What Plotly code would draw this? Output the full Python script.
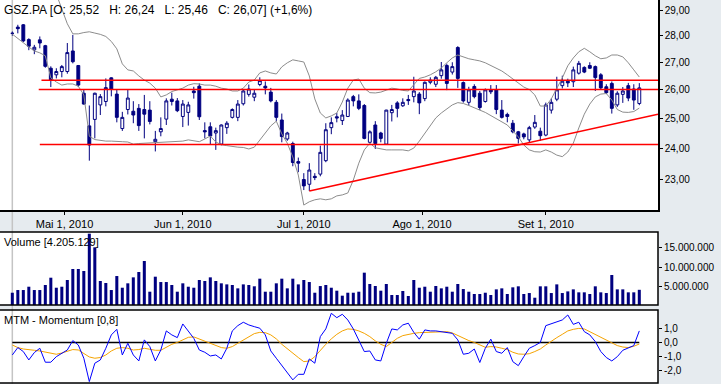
import numpy as np
import pandas as pd
import plotly.graph_objects as go

# ---------------- data ----------------
DATES = pd.bdate_range("2010-04-19", "2010-09-24")  # 115 trading days

OPEN = [28.09, 28.33, 28.42, 27.85, 27.46, 27.84, 27.62, 26.78, 26.54, 26.66,
        26.66, 27.42, 26.88, 25.88, 24.75, 24.97, 25.47, 25.59, 26.43, 25.85,
        24.66, 25.31, 25.25, 25.35, 25.31, 25.29, 24.22, 24.55, 24.98, 25.67,
        25.61, 25.07, 25.21, 25.96, 26.13, 24.59, 24.72, 24.51, 24.14, 24.69,
        25.04, 25.04, 25.51, 25.84, 25.74, 26.19, 26.13, 25.92, 25.56, 24.95,
        24.31, 24.16, 23.57, 23.00, 22.85, 23.10, 23.17, 23.60, 24.69, 25.06,
        24.93, 25.07, 25.76, 25.61, 25.45, 24.20, 24.78, 24.51, 24.14, 25.20,
        25.54, 25.44, 25.66, 25.76, 25.85, 25.69, 26.27, 26.20, 26.51, 26.88,
        26.64, 27.55, 26.26, 25.56, 26.12, 25.88, 25.59, 26.00, 26.00, 25.29,
        25.14, 24.84, 24.55, 24.48, 24.28, 24.71, 24.57, 24.44, 25.29, 25.67,
        26.15, 26.31, 26.29, 26.60, 26.81, 26.88, 26.84, 26.54, 26.11, 26.23,
        25.47, 25.84, 26.15, 26.03, 25.52]
HIGH = [28.16, 28.42, 28.45, 27.90, 27.65, 27.97, 27.65, 26.85, 26.78, 26.90,
        27.72, 28.03, 26.90, 26.00, 25.45, 25.90, 25.85, 26.41, 26.45, 26.03,
        25.23, 26.03, 25.60, 25.50, 25.82, 25.60, 24.58, 25.04, 25.70, 25.90,
        25.71, 25.64, 25.58, 26.11, 26.23, 24.87, 24.87, 24.69, 24.80, 24.91,
        25.35, 25.64, 26.03, 26.19, 26.03, 26.45, 26.30, 26.07, 25.64, 25.17,
        24.55, 24.22, 23.70, 23.20, 23.52, 23.20, 24.09, 24.84, 25.04, 25.19,
        25.29, 25.70, 25.82, 25.84, 25.50, 24.60, 24.91, 24.55, 25.30, 25.47,
        25.60, 25.70, 25.82, 26.47, 25.92, 26.30, 26.45, 26.50, 27.01, 26.95,
        27.00, 27.60, 26.30, 26.11, 26.20, 25.96, 26.05, 26.17, 26.17, 25.64,
        25.20, 24.95, 24.58, 24.52, 24.75, 25.12, 24.69, 25.55, 25.70, 26.47,
        26.51, 26.40, 26.84, 27.05, 26.85, 27.00, 26.88, 26.60, 26.20, 26.30,
        25.95, 26.10, 26.25, 26.20, 26.24]
LOW = [28.00, 28.09, 27.75, 27.45, 27.30, 27.52, 26.80, 26.10, 26.41, 26.45,
       26.58, 26.96, 26.10, 25.48, 23.60, 24.33, 25.12, 25.42, 25.77, 24.87,
       24.58, 25.14, 24.84, 24.58, 24.33, 24.80, 23.90, 24.40, 24.78, 25.45,
       25.22, 24.71, 24.76, 25.69, 24.95, 24.33, 24.13, 23.95, 24.10, 24.48,
       25.00, 24.91, 25.45, 25.76, 25.60, 26.13, 25.84, 25.56, 24.91, 24.20,
       24.25, 23.42, 23.23, 22.67, 22.64, 22.98, 23.10, 23.55, 24.47, 24.87,
       24.78, 25.05, 25.42, 25.29, 24.30, 24.18, 23.98, 24.20, 24.13, 24.90,
       25.04, 25.40, 25.47, 25.56, 25.15, 25.60, 26.20, 26.10, 26.40, 25.99,
       26.55, 26.07, 25.55, 25.45, 25.70, 25.29, 25.55, 25.85, 25.15, 25.00,
       24.87, 24.50, 24.16, 24.30, 24.20, 24.65, 24.25, 24.40, 25.17, 25.60,
       26.05, 26.10, 26.10, 26.55, 26.60, 26.75, 25.96, 26.00, 25.85, 25.17,
       25.40, 25.54, 25.60, 25.30, 25.46]
CLOSE = [28.09, 28.27, 27.80, 27.60, 27.56, 27.72, 26.85, 26.35, 26.66, 26.84,
         27.36, 27.02, 26.17, 25.50, 24.11, 25.88, 25.76, 26.08, 26.03, 25.04,
         25.04, 25.71, 25.12, 24.76, 25.15, 24.90, 24.30, 24.66, 25.61, 25.59,
         25.27, 25.50, 25.47, 25.90, 25.06, 24.55, 24.41, 24.59, 24.78, 24.84,
         25.31, 25.50, 25.96, 26.03, 25.88, 26.33, 26.07, 25.61, 25.04, 24.39,
         24.51, 23.54, 23.52, 22.80, 23.30, 23.06, 23.87, 24.62, 24.86, 25.02,
         25.12, 25.64, 25.61, 25.35, 24.33, 24.55, 24.16, 24.33, 25.29, 25.31,
         25.35, 25.56, 25.62, 25.96, 25.54, 26.27, 26.35, 26.45, 26.72, 26.23,
         26.84, 26.41, 25.61, 26.00, 25.76, 25.38, 26.00, 25.93, 25.31, 25.04,
         25.07, 24.55, 24.33, 24.38, 24.69, 24.87, 24.42, 25.47, 25.56, 26.00,
         26.31, 26.25, 26.72, 26.96, 26.64, 26.78, 26.44, 26.07, 25.90, 25.35,
         25.88, 25.96, 25.71, 25.64, 26.07]

BB_UPPER = [30.60, 30.50, 30.40, 30.30, 30.10, 29.95, 29.80, 29.70, 29.64, 29.04,
            28.46, 28.07, 28.07, 28.12, 28.15, 28.10, 28.05, 27.97, 27.78, 27.50,
            26.94, 26.72, 26.68, 26.50, 26.35, 26.24, 26.06, 25.75, 25.82, 25.94,
            25.99, 26.06, 26.17, 26.22, 26.21, 26.17, 26.17, 26.13, 26.06, 26.03,
            25.96, 25.96, 26.06, 26.28, 26.35, 26.61, 26.68, 26.61, 26.57, 26.83,
            26.98, 27.09, 27.05, 27.01, 26.50, 25.68, 25.19, 25.02, 25.09, 25.19,
            25.57, 26.06, 26.35, 26.39, 26.06, 25.90, 25.89, 25.92, 25.99, 26.06,
            26.03, 25.98, 25.96, 26.17, 26.41, 26.46, 26.54, 26.65, 26.79, 26.98,
            27.16, 27.27, 27.20, 27.13, 27.09, 27.05, 26.98, 26.87, 26.79, 26.68,
            26.54, 26.39, 26.24, 26.10, 26.01, 25.82, 25.43, 25.43, 25.68, 26.03,
            26.43, 26.87, 27.16, 27.39, 27.52, 27.39, 27.24, 27.13, 27.16, 27.27,
            27.27, 27.20, 26.98, 26.72, 26.46]
BB_LOWER = [28.06, 27.91, 27.73, 27.57, 27.42, 27.35, 27.24, 26.43, 26.28, 26.17,
            26.21, 26.21, 26.13, 25.82, 24.40, 24.29, 24.26, 24.24, 24.24, 24.24,
            24.22, 24.21, 24.14, 24.16, 24.17, 24.18, 24.18, 24.19, 24.21, 24.22,
            24.22, 24.24, 24.28, 24.26, 24.22, 24.31, 24.41, 24.21, 24.12, 24.09,
            24.06, 24.04, 24.03, 23.98, 24.04, 24.28, 24.51, 24.75, 24.91, 24.48,
            24.17, 23.72, 23.14, 22.21, 22.31, 22.37, 22.40, 22.37, 22.40, 22.49,
            22.52, 22.58, 22.98, 23.52, 23.95, 24.17, 24.02, 23.98, 23.95, 23.95,
            23.95, 23.95, 23.92, 24.01, 24.24, 24.51, 24.78, 25.02, 25.19, 25.33,
            25.47, 25.55, 25.52, 25.45, 25.38, 25.29, 25.21, 25.10, 25.02, 24.90,
            24.78, 24.58, 24.38, 24.11, 23.95, 23.89, 23.88, 23.95, 23.88, 23.78,
            23.73, 23.88, 24.17, 24.68, 25.15, 25.50, 25.75, 25.85, 25.87, 25.64,
            25.31, 25.22, 25.21, 25.24, 25.36]

VOLUME_M = [3.46, 4.15, 4.15, 5.00, 4.15, 4.15, 5.44, 7.31, 4.74, 5.00,
            6.72, 9.54, 9.54, 9.03, 18.6, 15.1, 6.46, 5.95, 4.15, 7.74,
            4.74, 5.87, 7.40, 8.77, 11.6, 3.72, 7.57, 6.20, 6.20, 5.44,
            3.72, 5.87, 5.00, 4.74, 6.72, 6.46, 7.40, 6.46, 5.87, 5.60,
            5.44, 4.58, 5.60, 5.44, 5.10, 7.06, 3.72, 3.72, 5.87, 7.06,
            4.58, 7.06, 5.60, 6.72, 6.20, 3.46, 5.17, 5.44, 4.74, 3.98,
            2.70, 3.46, 3.46, 3.72, 8.60, 5.70, 5.18, 3.98, 5.70, 2.87,
            2.87, 3.90, 2.62, 6.72, 4.74, 5.00, 3.72, 5.18, 4.58, 5.00,
            3.72, 5.70, 4.40, 3.72, 3.13, 3.13, 3.46, 2.87, 4.32, 4.58,
            3.13, 4.84, 5.10, 3.13, 3.38, 2.18, 5.10, 5.10, 3.38, 5.60,
            3.38, 3.80, 4.32, 3.56, 3.56, 3.13, 5.10, 3.56, 3.38, 8.00,
            4.32, 4.32, 3.56, 3.56, 4.205129]

MTM = [-0.88, -0.36, -0.64, -1.23, -0.71, -0.41, -1.39, -1.39, -1.00, -0.76,
       -0.53, 0.13, -0.18, -1.11, -2.75, -1.46, -1.23, -0.41, 0.53, 0.92,
       -0.88, -0.06, -0.88, -1.30, 0.18, -0.29, -1.30, -0.53, 0.81, 0.53,
       0.34, 1.30, 0.81, 0.29, -0.53, -0.69, -0.95, -0.88, -1.16, -0.41,
       0.81, 1.18, 1.42, 1.23, 1.11, 1.00, 0.53, -0.60, -1.11, -1.63,
       -2.10, -2.63, -2.24, -2.24, -1.16, -1.46, 0.41, 0.95, 2.05, 1.74,
       1.98, 1.58, 0.95, 0.18, -0.64, -0.60, -1.23, -1.30, -0.06, 0.95,
       0.88, 1.23, 1.35, 0.71, 0.23, 0.88, 0.81, 0.81, 0.76, 0.71,
       0.64, 0.18, -0.83, -0.76, -0.46, -1.41, -0.41, 0.23, -0.64, -0.76,
       -0.36, -1.35, -1.63, -1.00, -0.41, -0.22, 0.00, 1.18, 1.30, 1.42,
       1.58, 1.93, 1.27, 1.42, 0.76, 0.53, 0.06, -0.64, -1.06, -1.30,
       -1.00, -0.55, -0.41, -0.22, 0.81]
MTM_SIGNAL = [-0.18, -0.36, -0.46, -0.53, -0.55, -0.60, -0.69, -0.79, -0.83, -0.74,
              -0.64, -0.50, -0.53, -0.79, -1.02, -1.11, -1.06, -0.88, -0.60, -0.41,
              -0.36, -0.41, -0.53, -0.50, -0.41, -0.48, -0.55, -0.55, -0.32, -0.13,
              0.00, 0.16, 0.36, 0.39, 0.25, 0.06, -0.08, -0.22, -0.36, -0.41,
              -0.29, -0.06, 0.18, 0.41, 0.62, 0.71, 0.69, 0.53, 0.25, -0.13,
              -0.46, -0.76, -1.06, -1.35, -1.30, -1.00, -0.53, -0.13, 0.25, 0.57,
              0.81, 0.95, 0.92, 0.81, 0.64, 0.41, 0.11, -0.13, -0.29, 0.00,
              0.29, 0.48, 0.57, 0.64, 0.69, 0.71, 0.74, 0.74, 0.76, 0.76,
              0.67, 0.48, 0.29, 0.13, 0.00, -0.18, -0.34, -0.29, -0.32, -0.41,
              -0.50, -0.69, -0.81, -0.83, -0.79, -0.64, -0.46, -0.18, 0.11, 0.34,
              0.57, 0.81, 0.92, 0.99, 0.95, 0.76, 0.53, 0.36, 0.15, -0.04,
              -0.22, -0.32, -0.36, -0.27, -0.11]

H_LEVELS = [26.34, 26.01, 24.13]          # horizontal support / resistance
H_LEVEL_START = [5.3, 4.8, 5.0]           # bar index where each line begins
TREND_ANCHORS = [(54, 22.64), (96, 24.27)]  # (bar index, price) of the rising trend line

PRICE_TICKS = [23, 24, 25, 26, 27, 28, 29]
VOL_TICKS = [5e6, 10e6, 15e6]
MTM_TICKS = [-2, -1, 0, 1]
MONTH_TICKS = ["2010-05-01", "2010-06-01", "2010-07-01", "2010-08-01", "2010-09-01"]
MONTH_LABELS = ["Mai 1, 2010", "Jun 1, 2010", "Jul 1, 2010", "Ago 1, 2010", "Set 1, 2010"]

NB = "\u00a0"
TITLE = f"GSZ.PA [O: 25,52{NB}{NB} H: 26,24{NB}{NB} L: 25,46{NB}{NB} C: 26,07] (+1,6%)"
VOL_LABEL = "Volume [4.205.129]"
MTM_LABEL = "MTM - Momentum [0,8]"

# ---------------- style ----------------
W, H = 721, 384
BG = "#e6ebef"
NAVY = "#000080"
FONT = "Liberation Sans, Arial, sans-serif"
PLOT_RIGHT = 658 / W
X_RANGE = [-2.24, 117.4]

def pfrac(y_px):
    return 1 - y_px / H

MAIN_DOM = [pfrac(210), 1.0]
VOL_DOM = [pfrac(305), pfrac(232)]
MTM_DOM = [pfrac(383), pfrac(310)]

x = np.arange(len(DATES))
vol = [v * 1e6 for v in VOLUME_M]

tick_pos = []
for d in pd.to_datetime(MONTH_TICKS):
    n = int((DATES < d).sum())
    tick_pos.append(n if d in DATES else n - 0.5)

fig = go.Figure()

# Bollinger bands
for band in (BB_UPPER, BB_LOWER):
    fig.add_trace(go.Scatter(x=x, y=band, mode="lines",
                             line=dict(color="#8c8c8c", width=1), yaxis="y"))

# horizontal levels
for lvl, x0 in zip(H_LEVELS, H_LEVEL_START):
    fig.add_trace(go.Scatter(x=[x0, X_RANGE[1]], y=[lvl, lvl], mode="lines",
                             line=dict(color="#ff0000", width=1.5), yaxis="y"))

# trend line (straight on log scale), extended to right edge
(xa, pa), (xb, pb) = TREND_ANCHORS
slope = (np.log(pb) - np.log(pa)) / (xb - xa)
x_end = X_RANGE[1]
p_end = float(np.exp(np.log(pa) + slope * (x_end - xa)))
fig.add_trace(go.Scatter(x=[xa, x_end], y=[pa, p_end], mode="lines",
                         line=dict(color="#ff0000", width=1.5), yaxis="y"))

# candles
fig.add_trace(go.Candlestick(
    x=x, open=OPEN, high=HIGH, low=LOW, close=CLOSE, yaxis="y",
    increasing=dict(fillcolor="white", line=dict(color=NAVY, width=1)),
    decreasing=dict(fillcolor=NAVY, line=dict(color=NAVY, width=1)),
    whiskerwidth=0, hoverinfo="skip"))

# volume
fig.add_trace(go.Bar(x=x, y=vol, width=0.55, marker=dict(color=NAVY, line=dict(width=0)),
                     yaxis="y2", hoverinfo="skip"))

# momentum
fig.add_trace(go.Scatter(x=[x[0], x[-1]], y=[0, 0], mode="lines",
                         line=dict(color="black", width=1.5), yaxis="y3"))
fig.add_trace(go.Scatter(x=x, y=MTM_SIGNAL, mode="lines",
                         line=dict(color="#f5a300", width=1), yaxis="y3"))
fig.add_trace(go.Scatter(x=x, y=MTM, mode="lines",
                         line=dict(color="#0000ff", width=1), yaxis="y3"))

shapes = []
for dom in (MAIN_DOM, VOL_DOM, MTM_DOM):
    shapes.append(dict(type="rect", xref="paper", yref="paper", x0=-0.01, x1=PLOT_RIGHT,
                       y0=dom[0], y1=dom[1], fillcolor="white", line=dict(width=0),
                       layer="below"))
shapes.append(dict(type="line", xref="x", yref="paper", x0=0, x1=0, y0=0, y1=1,
                   line=dict(color="#c4c4c4", width=1.5), layer="below"))
for dom in (VOL_DOM, MTM_DOM):
    shapes.append(dict(type="rect", xref="paper", yref="paper", x0=-0.01, x1=PLOT_RIGHT,
                       y0=dom[0], y1=dom[1], line=dict(color="black", width=1.5),
                       layer="above"))

ytickfont = dict(family=FONT, size=10, color="black")
xtickfont = dict(family=FONT, size=11, color="black")
axis_common = dict(showgrid=False, zeroline=False, ticks="outside", ticklen=3,
                   tickcolor="black")

fig.update_layout(
    width=W, height=H, margin=dict(l=0, r=0, t=0, b=0),
    paper_bgcolor=BG, plot_bgcolor="rgba(0,0,0,0)", showlegend=False,
    boxgap=0.25, hovermode=False,
    xaxis=dict(domain=[0, PLOT_RIGHT], range=X_RANGE, anchor="y",
               tickvals=tick_pos, ticktext=MONTH_LABELS, showline=True,
               linecolor="black", linewidth=1.5, rangeslider=dict(visible=False),
               tickfont=xtickfont, **axis_common),
    yaxis=dict(domain=MAIN_DOM, type="log", side="right", anchor="x",
               range=[np.log10(22.06), np.log10(29.40)],
               tickvals=PRICE_TICKS, ticktext=[f"{v:.2f}".replace(".", ",") for v in PRICE_TICKS],
               showline=True, linecolor="black", linewidth=1.5,
               tickfont=ytickfont, **axis_common),
    yaxis2=dict(domain=VOL_DOM, side="right", anchor="x", range=[0.31e6, 19.03e6],
                tickvals=VOL_TICKS,
                ticktext=[f"{int(v):,}".replace(",", ".") for v in VOL_TICKS],
                tickfont=ytickfont, **axis_common),
    yaxis3=dict(domain=MTM_DOM, side="right", anchor="x", range=[-2.85, 2.28],
                tickvals=MTM_TICKS,
                ticktext=[f"{v:.1f}".replace(".", ",") for v in MTM_TICKS],
                tickfont=ytickfont, **axis_common),
    shapes=shapes,
    annotations=[
        dict(text=TITLE, xref="paper", yref="paper", x=2 / W, y=1 - 1 / H,
             xanchor="left", yanchor="top", showarrow=False,
             font=dict(family=FONT, size=12, color="black")),
        dict(text=VOL_LABEL, xref="paper", yref="paper", x=2 / W, y=pfrac(234),
             xanchor="left", yanchor="top", showarrow=False,
             font=dict(family=FONT, size=11, color="black")),
        dict(text=MTM_LABEL, xref="paper", yref="paper", x=2 / W, y=pfrac(312),
             xanchor="left", yanchor="top", showarrow=False,
             font=dict(family=FONT, size=11, color="black")),
    ],
)

fig.write_html("out.html", config={"displayModeBar": False},
               post_script="document.body.style.margin='0';document.body.style.overflow='hidden';")
